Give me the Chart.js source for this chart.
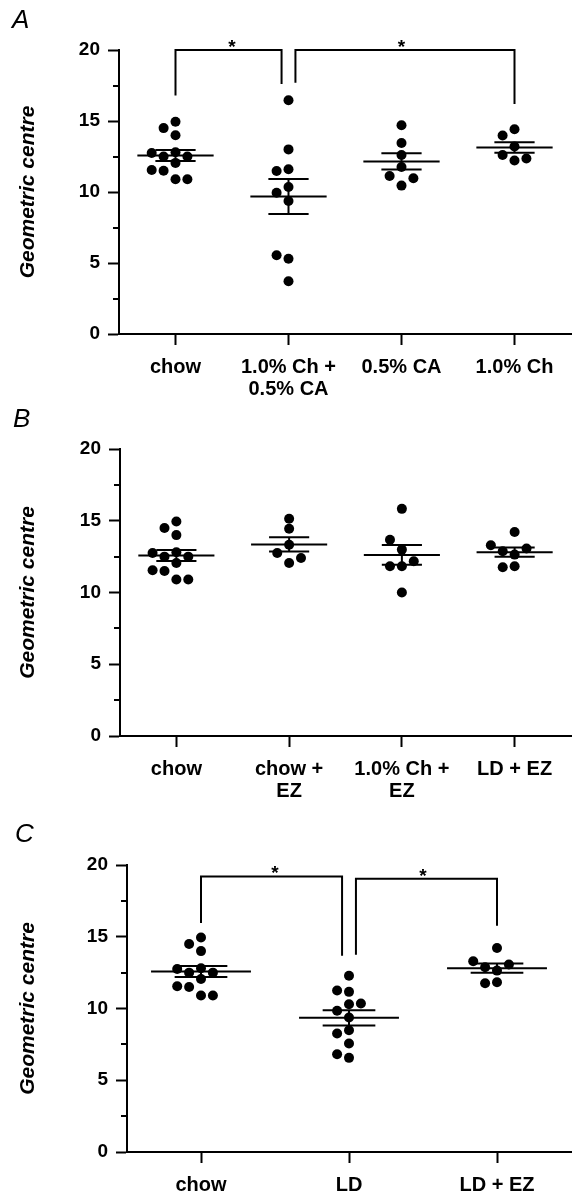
<!DOCTYPE html>
<html><head><meta charset="utf-8">
<script src="https://cdn.jsdelivr.net/npm/chart.js@4.4.1/dist/chart.umd.min.js"></script>
<style>
html,body{margin:0;padding:0;background:#fff;}
#wrap{position:relative;width:576px;height:1191px;overflow:hidden;}
.panel{position:absolute;left:0;width:576px;}
</style></head><body>
<div id="wrap">
<div class="panel" style="top:0;height:400px"><canvas id="cA"></canvas></div>
<div class="panel" style="top:400px;height:400px"><canvas id="cB"></canvas></div>
<div class="panel" style="top:800px;height:391px"><canvas id="cC"></canvas></div>
</div>
<script>
// ---------- data ----------
const yTicks = [0, 5, 10, 15, 20];
const yTitle = 'Geometric centre';

const catsA = ['chow', ['1.0% Ch +', '0.5% CA'], '0.5% CA', '1.0% Ch'];
const catsB = ['chow', ['chow +', 'EZ'], ['1.0% Ch +', 'EZ'], 'LD + EZ'];
const catsC = ['chow', 'LD', 'LD + EZ'];

const chow      = [14.95, 14.5, 14.0, 12.8, 12.5, 12.5, 12.75, 12.05, 11.5, 10.9, 10.9, 11.55];
const chCA      = [16.46, 13.0, 11.6, 11.48, 10.35, 9.95, 9.37, 5.3, 5.54, 3.71];
const ca05      = [14.7, 13.45, 12.6, 11.76, 11.13, 10.45, 10.97];
const ch10      = [14.42, 13.98, 13.2, 12.6, 12.22, 12.36];
const chowEZ    = [14.44, 15.14, 13.33, 12.75, 12.06, 12.4];
const chEZ      = [15.83, 12.99, 13.68, 11.83, 11.83, 12.18, 10.0];
const ldEZ      = [14.21, 12.64, 12.87, 13.06, 13.29, 11.83, 11.76];
const ld        = [12.28, 11.16, 11.26, 10.3, 9.84, 10.35, 9.37, 8.49, 8.26, 7.56, 6.56, 6.81];

// significance brackets: groups joined, top value, leg-bottom values
const bracketsA = [
  {from: 0, to: 1, top: 20, fromLeg: 16.8, toLeg: 17.6, mark: '*'},
  {from: 1, to: 3, top: 20, fromLeg: 17.7, toLeg: 16.2, mark: '*'}
];
const bracketsC = [
  {from: 0, to: 1, top: 19.2, fromLeg: 15.95, toLeg: 13.67, mark: '*'},
  {from: 1, to: 2, top: 19.05, fromLeg: 13.74, toLeg: 15.77, mark: '*'}
];

// ---------- rendering ----------
const FONT = 'Arial, "Liberation Sans", Helvetica, sans-serif';
const LANE_PX = 12, GAP_PX = 10, BRK_GAP_PX = 7;
const MEAN_HALF = 0.3375, CAP_HALF = 0.178;

function stats(v) {
  const n = v.length;
  const m = v.reduce((a, b) => a + b, 0) / n;
  const sd = Math.sqrt(v.reduce((a, b) => a + (b - m) * (b - m), 0) / (n - 1));
  return {m, sem: sd / Math.sqrt(n)};
}

function swarm(vals, ci, pxX, pxY) {
  const placed = [];
  const cand = [0, -1, 1, -2, 2, -3, 3];
  return vals.map(v => {
    for (const L of cand) {
      if (!placed.some(p => p.L === L && Math.abs(p.v - v) * pxY < GAP_PX)) {
        placed.push({L, v});
        return {x: ci + L * LANE_PX / pxX, y: v};
      }
    }
    return {x: ci, y: v};
  });
}

function makeDeco(cfg) {
  return {
    id: 'deco' + cfg.letter,
    afterDraw(chart) {
      const {ctx, chartArea} = chart;
      const x = chart.scales.x, y = chart.scales.y;
      ctx.save();
      ctx.strokeStyle = '#000';
      ctx.lineWidth = 2;
      for (let i = 0; i < yTicks.length - 1; i++) {
        const v = (yTicks[i] + yTicks[i + 1]) / 2;
        const py = Math.round(y.getPixelForValue(v));
        ctx.beginPath();
        ctx.moveTo(chartArea.left - 6, py);
        ctx.lineTo(chartArea.left, py);
        ctx.stroke();
      }
      ctx.fillStyle = '#000';
      ctx.font = 'bold 19px ' + FONT;
      ctx.textAlign = 'center';
      ctx.textBaseline = 'alphabetic';
      cfg.brackets.forEach(b => {
        const px = x.getPixelForValue((b.from + b.to) / 2);
        const py = y.getPixelForValue(b.top);
        ctx.fillText(b.mark, px, py + 3);
      });
      ctx.font = 'italic 26px ' + FONT;
      ctx.textAlign = 'left';
      ctx.fillText(cfg.letter, cfg.letterX, cfg.letterY);
      ctx.restore();
    }
  };
}

function build(cfg) {
  const n = cfg.labels.length;
  const st = cfg.groups.map(stats);
  const meanSeg = [], semSeg = [];
  st.forEach((s, i) => {
    meanSeg.push({x: i - MEAN_HALF, y: s.m}, {x: i + MEAN_HALF, y: s.m}, {x: i, y: null});
    semSeg.push({x: i - CAP_HALF, y: s.m + s.sem}, {x: i + CAP_HALF, y: s.m + s.sem}, {x: i, y: null});
    semSeg.push({x: i - CAP_HALF, y: s.m - s.sem}, {x: i + CAP_HALF, y: s.m - s.sem}, {x: i, y: null});
    semSeg.push({x: i, y: s.m - s.sem}, {x: i, y: s.m + s.sem}, {x: i, y: null});
  });
  const lineDs = (data) => ({
    type: 'scatter', data, showLine: true, spanGaps: false, borderColor: '#000',
    borderWidth: 2, pointRadius: 0, pointHoverRadius: 0, fill: false, order: 0, clip: false,
    borderCapStyle: 'butt'
  });
  const chart = new Chart(document.getElementById(cfg.id), {
    type: 'scatter',
    data: {
      datasets: [
        {data: [], pointRadius: 5, pointHoverRadius: 5, pointBackgroundColor: '#000',
         pointBorderWidth: 0, borderWidth: 0, order: 1, clip: false},
        lineDs(meanSeg),
        lineDs(semSeg),
        lineDs([])
      ]
    },
    options: {
      responsive: true, maintainAspectRatio: false, animation: false, events: [],
      layout: {padding: {top: cfg.areaTop, right: 1, bottom: 0, left: 0}},
      plugins: {legend: {display: false}, tooltip: {enabled: false}},
      scales: {
        x: {
          type: 'linear', min: -0.5, max: n - 0.5,
          afterBuildTicks: s => { s.ticks = cfg.labels.map((_, i) => ({value: i})); },
          afterFit: s => { s.height = cfg.xAxisH; },
          ticks: {
            autoSkip: false, maxRotation: 0, minRotation: 0, padding: 11, color: '#000',
            font: {family: FONT, size: 20, weight: 'bold', lineHeight: 1.1},
            callback: v => cfg.labels[Math.round(v)]
          },
          grid: {drawOnChartArea: false, drawTicks: true, tickLength: 11, tickWidth: 2, tickColor: '#000'},
          border: {display: true, color: '#000', width: 2}
        },
        y: {
          type: 'linear', min: yTicks[0], max: yTicks[yTicks.length - 1],
          afterBuildTicks: s => { s.ticks = yTicks.map(v => ({value: v})); },
          afterFit: s => { s.width = cfg.axisX; },
          ticks: {padding: 8, color: '#000', font: {family: FONT, size: 19, weight: 'bold'}},
          grid: {drawOnChartArea: false, drawTicks: true, tickLength: 11, tickWidth: 2, tickColor: '#000'},
          border: {display: true, color: '#000', width: 2},
          title: {display: true, text: yTitle, color: '#000', padding: {top: 17, bottom: 0},
                  font: {family: FONT, size: 21, weight: 'bold', style: 'italic', lineHeight: 1.1}}
        }
      }
    },
    plugins: [makeDeco(cfg)]
  });
  const xs = chart.scales.x, ys = chart.scales.y;
  const pxX = xs.getPixelForValue(1) - xs.getPixelForValue(0);
  const pxY = ys.getPixelForValue(0) - ys.getPixelForValue(1);
  chart.data.datasets[0].data = cfg.groups.flatMap((g, i) => swarm(g, i, pxX, pxY));
  const br = [];
  cfg.brackets.forEach(b => {
    const fromShared = cfg.brackets.some(o => o !== b && o.to === b.from);
    const toShared = cfg.brackets.some(o => o !== b && o.from === b.to);
    const fx = b.from + (fromShared ? BRK_GAP_PX / pxX : 0);
    const tx = b.to - (toShared ? BRK_GAP_PX / pxX : 0);
    br.push({x: fx, y: b.fromLeg}, {x: fx, y: b.top}, {x: tx, y: b.top}, {x: tx, y: b.toLeg}, {x: tx, y: null});
  });
  chart.data.datasets[3].data = br;
  chart.update('none');
  return chart;
}

build({id: 'cA', letter: 'A', letterX: 12, letterY: 28, labels: catsA,
       groups: [chow, chCA, ca05, ch10], brackets: bracketsA, areaTop: 50, axisX: 119, xAxisH: 66});
build({id: 'cB', letter: 'B', letterX: 13, letterY: 27, labels: catsB,
       groups: [chow, chowEZ, chEZ, ldEZ], brackets: [], areaTop: 49, axisX: 120, xAxisH: 64});
build({id: 'cC', letter: 'C', letterX: 15, letterY: 42, labels: catsC,
       groups: [chow, ld, ldEZ], brackets: bracketsC, areaTop: 65, axisX: 127, xAxisH: 39});
</script>
</body></html>
